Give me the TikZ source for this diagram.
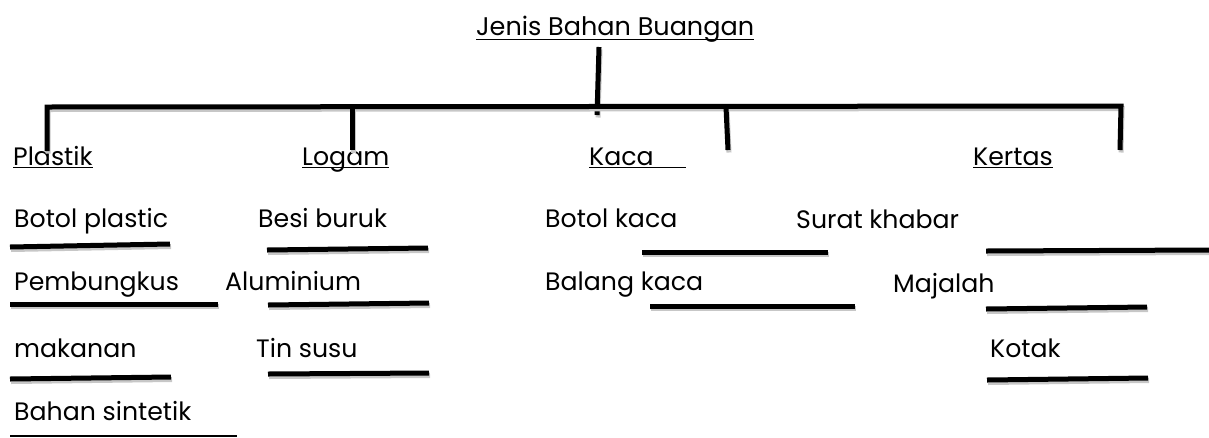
\documentclass[tikz,border=0pt]{standalone}
\usepackage{fontspec}
\setmainfont{Poppins}
\begin{document}
\begin{tikzpicture}[x=1pt,y=-1pt,
  lbl/.style={inner sep=0pt, anchor=base west, font=\fontsize{25.2}{30}\selectfont},
  ttl/.style={lbl, font=\fontsize{25.5}{30}\selectfont},
  ul/.style={line width=1.6pt},
  bar/.style={line width=5pt, preaction={draw=black!22, line width=5pt, transform canvas={shift={(1pt,-2.5pt)}}}}
]
\useasboundingbox (0,0) rectangle (1209,437);
% title
\node[ttl] (title) at (476,35) {Jenis Bahan Buangan};
\draw[ul] ([yshift=-4.5pt]title.base west) -- ([yshift=-4.5pt]title.base east);
% categories
\node[lbl] (plastik) at (13,165) {Plastik};
\node[lbl] (logam) at (302,165) {Logam};
\node[lbl] (kaca) at (589,165) {Kaca};
\node[lbl] (kertas) at (973,165) {Kertas};
\foreach \n in {plastik,logam,kertas}
  \draw[ul] ([yshift=-2.5pt]\n.base west) -- ([yshift=-2.5pt]\n.base east);
\coordinate (kacaend) at (686,167.5);
\draw[ul] ([yshift=-2.5pt]kaca.base west) -- (kacaend);
% tree
\coordinate (stemtop) at (599,47);
\coordinate (stembot) at (597,115);
\coordinate (barL) at (47,107);
\coordinate (barR) at (1121,106);
\coordinate (d1) at (47,151);
\coordinate (d2t) at (352,107);
\coordinate (d2) at (352,150);
\coordinate (d3t) at (726,107);
\coordinate (d3) at (728,150);
\coordinate (d4) at (1120,150);
\draw[bar] (stemtop) -- (stembot);
\draw[bar, line join=miter] (d1) -- (barL) -- (barR) -- (d4);
\draw[bar] (d2t) -- (d2);
\draw[bar] (d3t) -- (d3);
% items
\node[lbl] (bp) at (14,227) {Botol plastic};
\node[lbl] (bb) at (258,227) {Besi buruk};
\node[lbl] (bk) at (545,227) {Botol kaca};
\node[lbl] (sk) at (796,228) {Surat khabar};
\node[lbl] (pb) at (14,290) {Pembungkus};
\node[lbl] (al) at (225,290) {Aluminium};
\node[lbl] (blk) at (545,290) {Balang kaca};
\node[lbl] (mj) at (893,292) {Majalah};
\node[lbl] (mk) at (14,357) {makanan};
\node[lbl] (ts) at (256,357) {Tin susu};
\node[lbl] (kt) at (990,357) {Kotak};
\node[lbl] (bs) at (14,420) {Bahan sintetik};
% answer lines
\coordinate (l1a) at (10,247); \coordinate (l1b) at (170,244);
\coordinate (l2a) at (267,250); \coordinate (l2b) at (428,248);
\coordinate (l3a) at (642,252); \coordinate (l3b) at (828,252);
\coordinate (l4a) at (986,251); \coordinate (l4b) at (1209,250);
\coordinate (l5a) at (10,304); \coordinate (l5b) at (218,304);
\coordinate (l6a) at (268,305); \coordinate (l6b) at (429,303);
\coordinate (l7a) at (650,306); \coordinate (l7b) at (855,306);
\coordinate (l8a) at (986,309); \coordinate (l8b) at (1147,307);
\coordinate (l9a) at (10,379); \coordinate (l9b) at (171,377);
\coordinate (l10a) at (268,374); \coordinate (l10b) at (429,373);
\coordinate (l11a) at (987,380); \coordinate (l11b) at (1148,378);
\draw[bar] (l1a) -- (l1b);
\draw[bar] (l2a) -- (l2b);
\draw[bar] (l3a) -- (l3b);
\draw[bar] (l4a) -- (l4b);
\draw[bar] (l5a) -- (l5b);
\draw[bar] (l6a) -- (l6b);
\draw[bar] (l7a) -- (l7b);
\draw[bar] (l8a) -- (l8b);
\draw[bar] (l9a) -- (l9b);
\draw[bar] (l10a) -- (l10b);
\draw[bar] (l11a) -- (l11b);
\coordinate (l12a) at (10,436); \coordinate (l12b) at (237,436);
\draw[line width=2pt] (l12a) -- (l12b);
\end{tikzpicture}
\end{document}
